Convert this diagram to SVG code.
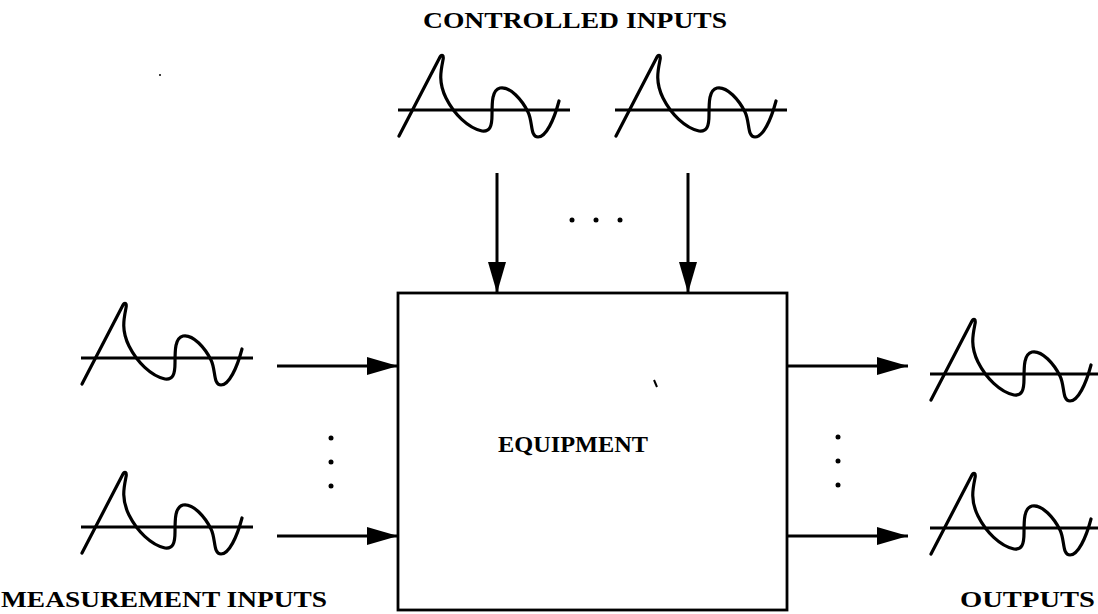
<svg xmlns="http://www.w3.org/2000/svg" width="1098" height="614" viewBox="0 0 1098 614">
<style>
  .lbl { font-family: "Liberation Serif", "Times New Roman", serif; font-weight: bold; fill: #000; }
  .wave { fill: none; stroke: #000; stroke-width: 3.2; stroke-linecap: round; stroke-linejoin: round; }
  .conn { fill: none; stroke: #000; stroke-width: 3; }
  .box { fill: #fff; stroke: #000; stroke-width: 2.8; }
</style>
<defs>
  <marker id="ah" markerUnits="userSpaceOnUse" markerWidth="32" markerHeight="20" refX="31" refY="10" orient="auto">
    <path d="M0,1 L31,10 L0,19 Z" fill="#000"/>
  </marker>
  <g id="sig">
    <line x1="0" y1="0" x2="172" y2="0" stroke="#000" stroke-width="3"/>
    <path class="wave" d="M1,26 L42,-53 C44,-56 46,-55 45,-50 C43,-40 40,-28 48,-12 C56,4 70,18 84,21 C92,22 94,16 94,5 C94,-8 94,-20 102,-22 C112,-24 124,-10 130,2 C135,12 132,27 140,27 C148,27 156,10 161,-9"/>
  </g>
</defs>
<rect width="1098" height="614" fill="#fff"/>

<g id="equipment">
  <rect class="box" x="398" y="293" width="389" height="317"/>
  <text class="lbl" x="498" y="452" font-size="23" textLength="150" lengthAdjust="spacingAndGlyphs">EQUIPMENT</text>
</g>

<g id="controlled-inputs">
  <use href="#sig" x="398" y="110"/>
  <use href="#sig" x="615" y="110"/>
  <text class="lbl" x="423" y="28" font-size="24" textLength="304" lengthAdjust="spacingAndGlyphs">CONTROLLED INPUTS</text>
</g>

<g id="measurement-inputs">
  <use href="#sig" x="81" y="358"/>
  <use href="#sig" x="81" y="527"/>
  <text class="lbl" x="1" y="607" font-size="24" textLength="326" lengthAdjust="spacingAndGlyphs">MEASUREMENT INPUTS</text>
</g>

<g id="outputs">
  <use href="#sig" x="930" y="374"/>
  <use href="#sig" x="930" y="528"/>
  <text class="lbl" x="960" y="607" font-size="24" textLength="135" lengthAdjust="spacingAndGlyphs">OUTPUTS</text>
</g>

<g id="connectors">
  <line class="conn" x1="497" y1="173" x2="497" y2="293" marker-end="url(#ah)"/>
  <line class="conn" x1="688" y1="173" x2="688" y2="293" marker-end="url(#ah)"/>
  <line class="conn" x1="277" y1="366" x2="398" y2="366" marker-end="url(#ah)"/>
  <line class="conn" x1="277" y1="536" x2="398" y2="536" marker-end="url(#ah)"/>
  <line class="conn" x1="787" y1="366" x2="908" y2="366" marker-end="url(#ah)"/>
  <line class="conn" x1="787" y1="536" x2="908" y2="536" marker-end="url(#ah)"/>
</g>

<g id="ellipses" fill="#000">
  <circle cx="572" cy="220" r="2.5"/>
  <circle cx="596" cy="220" r="2.5"/>
  <circle cx="620" cy="220" r="2.5"/>
  <circle cx="331" cy="438" r="2.5"/>
  <circle cx="331" cy="462" r="2.5"/>
  <circle cx="331" cy="486" r="2.5"/>
  <circle cx="838" cy="437" r="2.5"/>
  <circle cx="838" cy="461" r="2.5"/>
  <circle cx="838" cy="485" r="2.5"/>
</g>

<g id="scan-marks" fill="#000">
  <circle cx="160" cy="75" r="1"/>
  <path d="M654,380 L657,387" stroke="#000" stroke-width="2"/>
</g>
</svg>
